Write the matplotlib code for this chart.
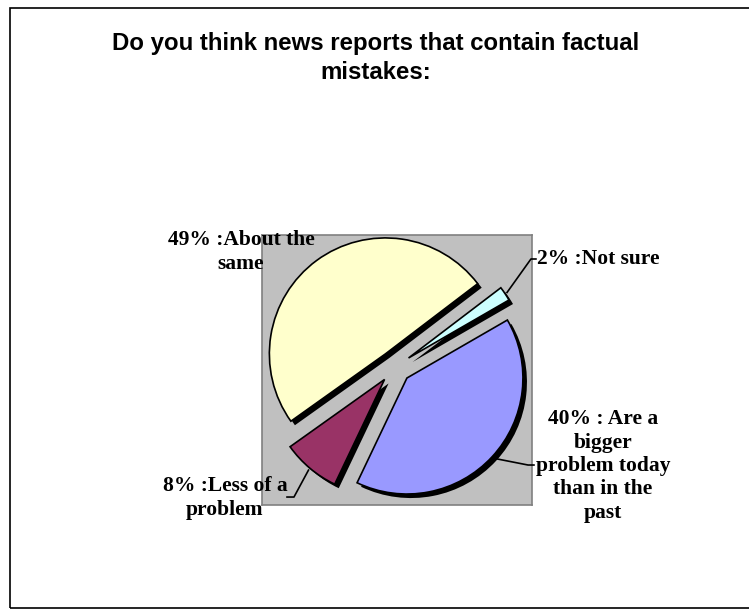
import numpy as np
import matplotlib
matplotlib.use('Agg')
import matplotlib.pyplot as plt
import matplotlib.patheffects as pe
from matplotlib.patches import Rectangle

# data, in the order the slices are drawn (clockwise)
categories = ['Are a bigger problem today than in the past', 'Less of a problem',
              'About the same', 'Not sure']
values = [40, 8, 49, 2]
label_texts = ['40% : Are a\nbigger\nproblem today\nthan in the\npast',
               '8% :Less of a\nproblem',
               '49% :About the\nsame',
               '2% :Not sure']
colors = ['#9999FF', '#993366', '#FFFFCC', '#CCFFFF']

title = 'Do you think news reports that contain factual\nmistakes:'

W, H = 749, 609
fig = plt.figure(figsize=(W / 100, H / 100), dpi=100)

# outer chart frame
fig.patches.append(Rectangle((10 / W, 1 / H), 1.0, (H - 9) / H, transform=fig.transFigure,
                             fill=False, edgecolor='black', linewidth=1.2, zorder=0))

fig.text(376 / W, 1 - 58 / H, title, ha='center', va='center', fontsize=17.3,
         fontweight='bold', family='Liberation Sans', linespacing=1.3)

# plot area (gray box)
ax = fig.add_axes([262 / W, 1 - 505 / H, 270 / W, 270 / H])
ax.set_facecolor('#C0C0C0')
for s in ax.spines.values():
    s.set_edgecolor('#808080')
    s.set_linewidth(1.2)

explode = [0.14] * len(values)
wedges, _ = ax.pie(values, colors=colors, startangle=30, counterclock=False,
                   explode=explode, radius=1.0, frame=True,
                   wedgeprops=dict(edgecolor='black', linewidth=1.2))
shadow = [pe.SimplePatchShadow(offset=(2.9, -2.9), shadow_rgbFace='black', alpha=1.0),
          pe.Normal()]
for w in wedges:
    w.set_path_effects(shadow)

ax.set_xlim(-133 / 116, 137 / 116)
ax.set_ylim(-138 / 116, 132 / 116)
ax.set_aspect('auto')
ax.set_xticks([])
ax.set_yticks([])

font = dict(family='Liberation Serif', fontweight='bold', fontsize=15.5)

# label positions (layout) and leader line elbows, in axis units
label_pos = [(1.793, -0.853), (-1.466, -1.129), (-1.328, 0.991), (1.224, 0.931)]
label_ha = ['center', 'center', 'center', 'left']
elbows = [((1.147, -0.845), (1.198, -0.845)),
          ((-0.871, -1.121), (-0.931, -1.121)),
          None,
          ((1.172, 0.931), (1.215, 0.931))]

for w, txt, pos, ha, elb in zip(wedges, label_texts, label_pos, label_ha, elbows):
    ax.text(pos[0], pos[1], txt, ha=ha, va='center', multialignment='center',
            linespacing=1.22, clip_on=False, **font)
    if elb is None:
        continue
    mid = np.deg2rad((w.theta1 + w.theta2) / 2)
    cx, cy = w.center
    ax0 = cx + 1.02 * np.cos(mid)
    ay0 = cy + 1.02 * np.sin(mid)
    ax.plot([ax0, elb[0][0], elb[1][0]], [ay0, elb[0][1], elb[1][1]],
            color='black', linewidth=1.2, clip_on=False, zorder=5)

plt.savefig('out.png', dpi=100)
